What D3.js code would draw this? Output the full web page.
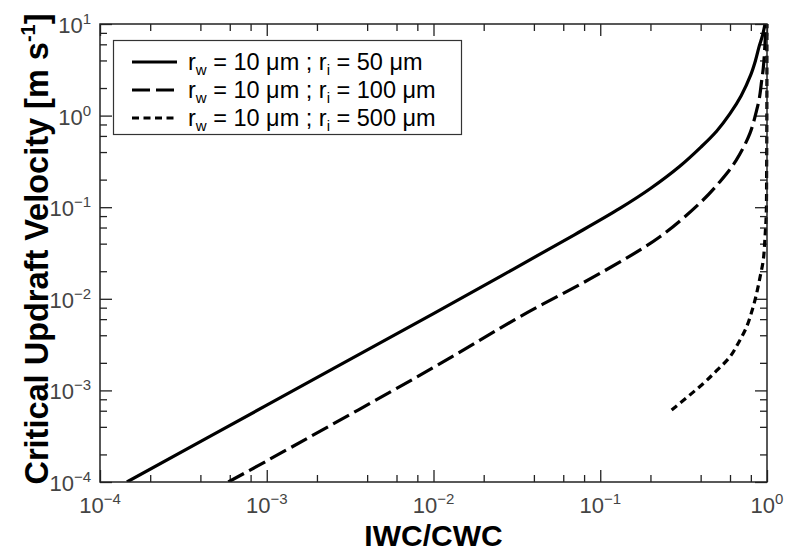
<!DOCTYPE html>
<html><head><meta charset="utf-8">
<script src="https://cdn.jsdelivr.net/npm/d3@7"></script>
<style>
body{margin:0;background:#fff}
text{font-family:"Liberation Sans",Arial,Helvetica,sans-serif}
</style></head>
<body><svg id="c" width="787" height="553"></svg>
<script>
// ---- data ----
const xTickValues = [1e-4, 1e-3, 1e-2, 1e-1, 1];
const xTickExp = ["\u22124", "\u22123", "\u22122", "\u22121", "0"];
const yTickValues = [1e-4, 1e-3, 1e-2, 1e-1, 1, 10];
const yTickExp = ["\u22124", "\u22123", "\u22122", "\u22121", "0", "1"];
const minorMultipliers = [2, 4, 6, 8];

const seriesLabels = [{ri: "50"}, {ri: "100"}, {ri: "500"}];
// r_i = 50 um
const ri50X = [1.45e-4, 1e-3, 1e-2, 0.03, 0.07, 0.131, 0.2, 0.3, 0.4, 0.5, 0.6, 0.7, 0.8, 0.85, 0.9, 0.94, 0.973];
const ri50Y = [1e-4, 6.9e-4, 6.9e-3, 0.021, 0.05, 0.097, 0.16, 0.28, 0.45, 0.68, 1.05, 1.65, 2.8, 3.9, 5.8, 7.5, 10];
// r_i = 100 um
const ri100X = [5.88e-4, 1e-3, 1e-2, 0.033, 0.104, 0.228, 0.4, 0.522, 0.65, 0.79, 0.867, 0.9, 0.929, 0.95, 0.973, 0.983];
const ri100Y = [1e-4, 1.7e-4, 1.78e-3, 6.38e-3, 0.0198, 0.0476, 0.113, 0.19, 0.32, 0.64, 1.15, 1.55, 2.4, 3.3, 6.15, 10];
// r_i = 500 um
const ri500X = [0.268, 0.415, 0.5, 0.6, 0.68, 0.755, 0.82, 0.867, 0.91, 0.95, 0.975, 0.99, 0.995, 0.998, 0.9993];
const ri500Y = [6.1e-4, 1.19e-3, 1.65e-3, 2.33e-3, 3.4e-3, 4.95e-3, 7.8e-3, 0.0115, 0.0175, 0.0265, 0.05, 0.086, 0.25, 1.0, 10];

// ---- layout ----
const L = 100, R = 767, T = 24, B = 482;
const svg = d3.select("#c");
const x = d3.scaleLog().domain([1e-4, 1]).range([L, R]);
const y = d3.scaleLog().domain([1e-4, 10]).range([B, T]);

const minorX = [], minorY = [];
xTickValues.slice(0, -1).forEach(v => minorMultipliers.forEach(m => minorX.push(v * m)));
yTickValues.slice(0, -1).forEach(v => minorMultipliers.forEach(m => minorY.push(v * m)));

const axisColor = "#222";
function styleAxis(g) {
  g.select(".domain").remove();
  g.selectAll("line").attr("stroke", axisColor).attr("stroke-width", 1.3);
  g.selectAll("text").remove();
}
const MAJ = 12, MIN = 7;
svg.append("g").attr("transform", `translate(0,${B})`).call(d3.axisBottom(x).tickValues(xTickValues).tickSize(-MAJ).tickFormat("")).call(styleAxis);
svg.append("g").attr("transform", `translate(0,${B})`).call(d3.axisBottom(x).tickValues(minorX).tickSize(-MIN).tickFormat("")).call(styleAxis);
svg.append("g").attr("transform", `translate(0,${T})`).call(d3.axisTop(x).tickValues(xTickValues).tickSize(-MAJ).tickFormat("")).call(styleAxis);
svg.append("g").attr("transform", `translate(0,${T})`).call(d3.axisTop(x).tickValues(minorX).tickSize(-MIN).tickFormat("")).call(styleAxis);
svg.append("g").attr("transform", `translate(${L},0)`).call(d3.axisLeft(y).tickValues(yTickValues).tickSize(-MAJ).tickFormat("")).call(styleAxis);
svg.append("g").attr("transform", `translate(${L},0)`).call(d3.axisLeft(y).tickValues(minorY).tickSize(-MIN).tickFormat("")).call(styleAxis);
svg.append("g").attr("transform", `translate(${R},0)`).call(d3.axisRight(y).tickValues(yTickValues).tickSize(-MAJ).tickFormat("")).call(styleAxis);
svg.append("g").attr("transform", `translate(${R},0)`).call(d3.axisRight(y).tickValues(minorY).tickSize(-MIN).tickFormat("")).call(styleAxis);

// tick labels
const tickColor = "#444";
xTickValues.forEach((v, i) => {
  const t = svg.append("text").attr("x", x(v)).attr("y", 513).attr("text-anchor", "middle")
    .attr("fill", tickColor).attr("font-size", 22);
  t.append("tspan").text("10");
  t.append("tspan").attr("dy", -9).attr("font-size", 15).text(xTickExp[i]);
});
yTickValues.forEach((v, i) => {
  const t = svg.append("text").attr("x", 91).attr("y", y(v) + 9).attr("text-anchor", "end")
    .attr("fill", tickColor).attr("font-size", 22);
  t.append("tspan").text("10");
  t.append("tspan").attr("dy", -9).attr("font-size", 15).text(yTickExp[i]);
});

// axis titles
svg.append("text").attr("x", (L + R) / 2).attr("y", 546).attr("text-anchor", "middle")
  .attr("font-size", 30).attr("font-weight", "bold").attr("fill", "#000").text("IWC/CWC");
const yt = svg.append("text").attr("transform", "translate(48,249) rotate(-90)").attr("text-anchor", "middle")
  .attr("font-size", 32.5).attr("font-weight", "bold").attr("fill", "#000");
yt.append("tspan").text("Critical Updraft Velocity [m s");
yt.append("tspan").attr("dy", -13).attr("font-size", 20).text("-1");
yt.append("tspan").attr("dy", 13).text("]");

// clip
svg.append("clipPath").attr("id", "clip").append("rect").attr("x", L).attr("y", T - 2).attr("width", R - L + 2).attr("height", B - T + 2);

const styles = [
  {dash: null, w: 3.2},
  {dash: "18,6", w: 3.2},
  {dash: "7,4.5", w: 3.2}
];
const series = [
  ri50X.map((v, i) => [v, ri50Y[i]]),
  ri100X.map((v, i) => [v, ri100Y[i]]),
  ri500X.map((v, i) => [v, ri500Y[i]])
];
const line = d3.line().x(d => x(d[0])).y(d => y(d[1])).curve(d3.curveCatmullRom.alpha(0.5));
series.forEach((s, i) => {
  svg.append("path").attr("d", line(s)).attr("fill", "none").attr("stroke", "#000")
    .attr("stroke-width", styles[i].w).attr("stroke-dasharray", styles[i].dash)
    .attr("clip-path", "url(#clip)");
});

// frame
svg.append("rect").attr("x", L).attr("y", T).attr("width", R - L).attr("height", B - T)
  .attr("fill", "none").attr("stroke", axisColor).attr("stroke-width", 1.5);

// legend
const lg = svg.append("g");
lg.append("rect").attr("x", 113.5).attr("y", 40.5).attr("width", 348).attr("height", 94)
  .attr("fill", "#fff").attr("stroke", "#333").attr("stroke-width", 1.2);
seriesLabels.forEach((s, i) => {
  const cy = 62 + i * 28;
  lg.append("line").attr("x1", 132).attr("x2", 177).attr("y1", cy).attr("y2", cy)
    .attr("stroke", "#000").attr("stroke-width", styles[i].w).attr("stroke-dasharray", styles[i].dash);
  const t = lg.append("text").attr("x", 188).attr("y", cy + 8).attr("font-size", 23.5).attr("fill", "#000");
  t.append("tspan").text("r");
  t.append("tspan").attr("dy", 5).attr("font-size", 15).text("w");
  t.append("tspan").attr("dy", -5).text(" = 10 \u03bcm ; r");
  t.append("tspan").attr("dy", 5).attr("font-size", 15).text("i");
  t.append("tspan").attr("dy", -5).text(" = " + s.ri + " \u03bcm");
});
</script></body></html>
